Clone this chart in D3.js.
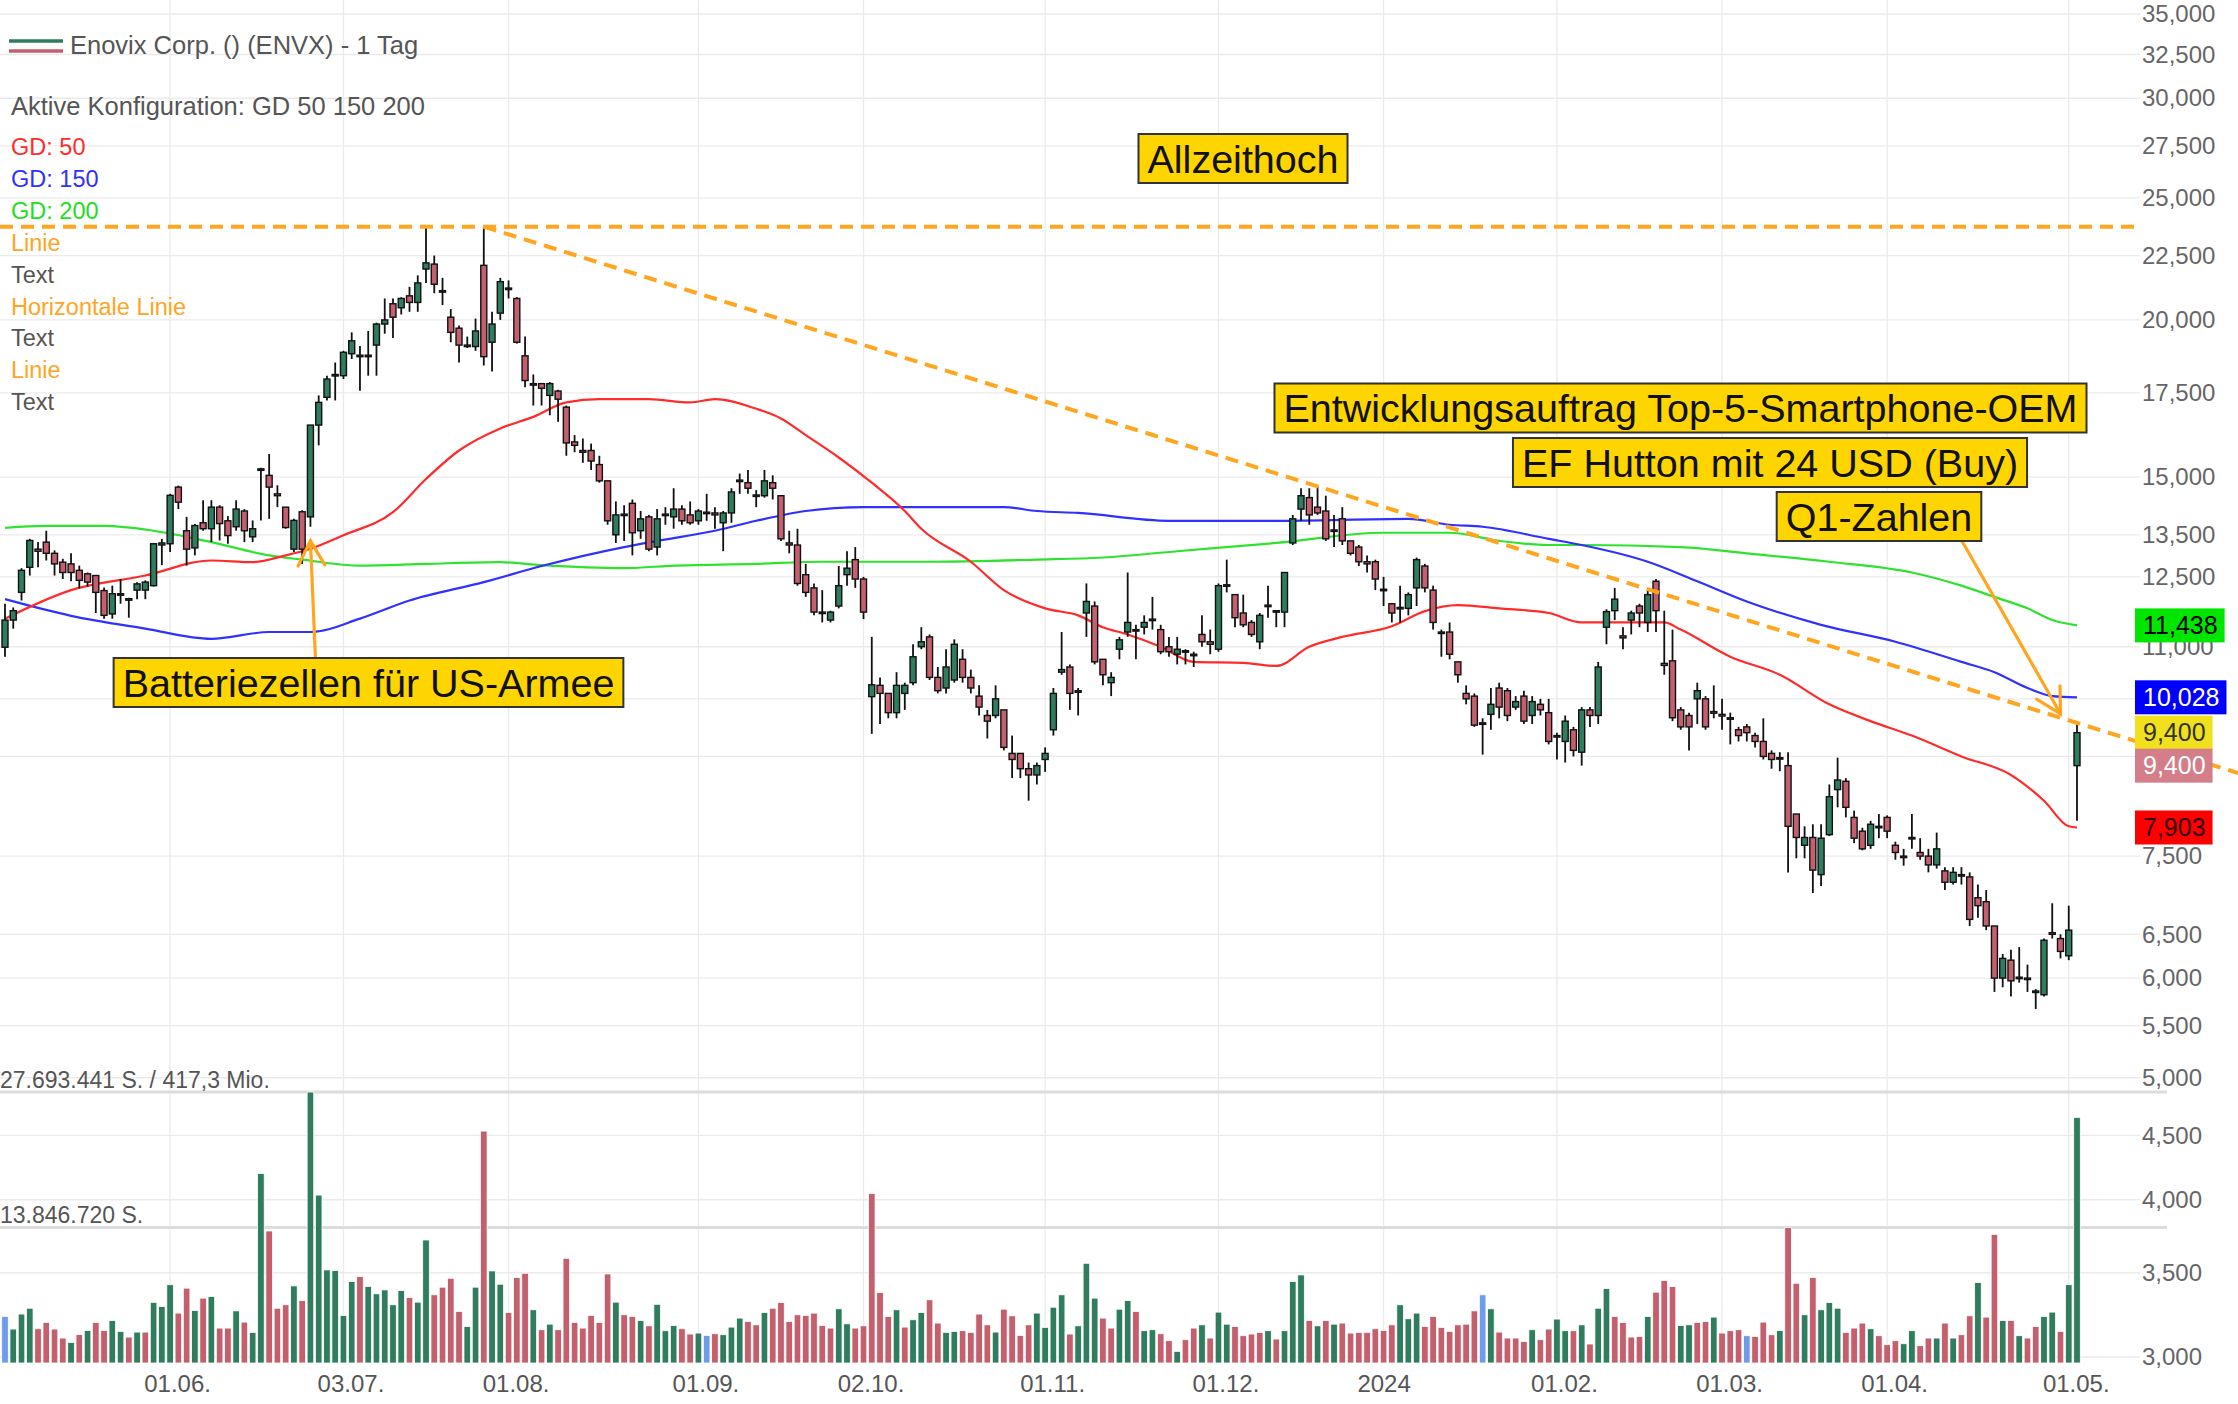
<!DOCTYPE html>
<html><head><meta charset="utf-8">
<script src="https://cdn.jsdelivr.net/npm/d3@7"></script>
<style>html,body{margin:0;padding:0;background:#fff;}svg{display:block;}</style>
</head><body>
<svg id="c" width="2238" height="1404"></svg>
<script>
// ---------------- DATA ----------------
const tickIdx = [20,41,61,84,104,126,147,167,188,208,228,250];
const tickLbl = ["01.06.","03.07.","01.08.","01.09.","02.10.","01.11.","01.12.","2024","01.02.","01.03.","01.04.","01.05."];
const priceTicks = [35,32.5,30,27.5,25,22.5,20,17.5,15,13.5,12.5,11,10,9,7.5,6.5,6,5.5,5,4.5,4,3.5,3];

const open = [10.99,11.55,12.15,12.72,13.15,13.32,13.05,12.84,12.8,12.65,12.57,12.53,12.19,11.68,12.12,12.01,12.2,12.2,12.3,13.25,
13.28,14.73,13.6,13.18,13.8,13.65,14.2,13.85,13.7,14.1,13.45,15.2,15.05,14.55,14.2,13.15,14.08,13.95,16.5,17.36,
18.05,18.06,18.8,18.7,18.75,19.1,19.85,20.6,20.45,20.9,20.65,21.95,22.15,21.1,20.1,19.7,19.1,19.05,22.1,19.2,
20.25,21.2,20.8,18.73,17.8,17.8,17.42,17.56,17.05,16.0,15.75,15.75,15.35,14.9,13.5,14.0,14.3,13.6,13.95,13.2,
14.0,13.95,14.15,14.0,13.85,14.05,14.05,13.8,14.05,14.9,14.85,14.5,14.5,14.85,14.5,13.3,13.25,12.55,12.25,11.72,
11.55,11.85,12.55,12.9,12.45,10.04,10.25,10.1,9.75,10.1,10.3,11.0,11.2,10.4,10.2,10.35,10.75,10.4,10.05,9.7,
9.7,9.8,9.05,9.05,8.8,8.7,8.95,9.45,10.5,10.6,10.15,11.7,11.85,10.75,10.3,10.95,11.3,11.35,11.4,11.55,
11.35,11.0,10.85,10.9,10.85,11.25,11.1,10.95,12.3,12.1,11.7,11.5,11.1,11.85,11.75,11.72,13.3,14.15,14.45,14.2,
14.1,13.6,13.9,13.35,13.2,12.85,12.85,12.2,11.9,11.8,11.8,12.25,12.75,12.2,11.3,11.3,10.7,10.1,10.05,9.55,
9.72,10.2,10.15,9.85,10.05,9.7,9.9,9.75,9.35,9.25,9.45,9.07,9.8,9.7,11.4,11.75,11.22,11.55,11.85,11.5,
12.4,10.67,10.72,9.8,9.7,10.0,10.0,9.77,9.72,9.66,9.45,9.5,9.35,9.25,9.05,8.98,8.85,8.1,7.65,7.76,
7.25,7.8,8.47,8.6,8.05,7.85,7.65,7.9,8.05,7.65,7.5,7.75,7.55,7.5,7.38,7.3,7.15,7.25,7.22,6.95,
6.9,6.6,6.0,6.2,6.0,6.0,5.86,5.82,6.52,6.45,6.25,8.85];
const high = [11.9,11.82,12.7,13.4,13.32,13.6,13.12,12.92,13.05,12.76,12.6,12.53,12.26,12.3,12.45,12.03,12.38,12.42,13.3,13.4,
14.55,14.77,13.95,13.77,14.38,14.38,14.25,13.97,14.38,14.15,13.86,15.26,15.65,14.78,14.2,13.9,14.12,16.5,17.42,18.06,
18.5,18.9,19.55,19.07,19.6,19.9,20.8,20.8,20.85,21.25,21.7,23.72,22.5,21.6,20.4,19.8,19.4,20.05,23.72,20.3,
21.6,21.5,20.85,19.4,18.1,17.8,17.85,17.6,17.1,16.2,16.1,15.95,15.6,14.9,14.35,14.25,14.4,14.1,14.0,14.15,
14.2,14.7,14.25,14.35,14.15,14.55,14.2,14.1,14.7,15.1,15.2,14.65,15.2,15.05,14.5,13.6,13.65,12.8,12.35,12.2,
11.75,12.75,13.1,13.2,12.5,11.2,10.4,10.1,10.5,10.3,11.05,11.4,11.25,10.6,10.95,11.15,10.95,10.55,10.25,9.8,
10.25,9.8,9.35,9.05,8.9,8.9,9.15,10.2,11.3,10.65,10.2,12.35,11.95,10.75,10.5,11.2,12.6,11.45,11.65,12.05,
11.45,11.2,11.2,10.95,10.9,11.65,11.35,12.35,12.9,12.1,12.1,11.55,11.7,12.3,11.75,12.6,14.0,14.7,14.7,14.75,
14.5,14.0,14.2,13.35,13.25,13.0,12.9,12.5,11.9,12.3,12.15,12.95,12.8,12.3,11.35,11.5,10.7,10.25,10.1,9.65,
10.2,10.3,10.2,10.05,10.15,10.05,10.0,10.0,9.4,9.7,9.5,9.85,9.85,10.7,11.78,12.25,11.4,11.75,11.9,12.2,
12.45,11.75,11.35,9.85,9.75,10.3,10.05,10.25,10.0,9.75,9.5,9.55,9.4,9.65,9.1,9.07,9.07,8.1,7.92,7.95,
7.95,8.55,8.98,8.65,8.15,7.9,8.0,8.1,8.08,7.7,7.6,8.1,7.75,7.6,7.83,7.35,7.35,7.35,7.28,7.12,
7.05,6.6,6.27,6.32,6.35,6.15,5.88,6.45,6.88,6.5,6.85,9.55];
const low = [10.8,11.37,11.97,12.53,12.72,12.88,12.53,12.45,12.4,12.24,12.28,11.7,11.58,11.58,11.9,11.6,12.0,12.0,12.28,12.77,
13.08,14.15,12.76,13.0,13.6,13.32,13.36,13.28,13.6,13.32,13.32,13.86,13.9,14.2,13.65,13.08,12.8,13.7,15.9,17.26,
17.26,17.95,18.62,17.57,18.06,18.06,19.5,19.35,20.2,20.3,20.3,21.4,21.0,20.55,19.2,18.5,19.0,18.9,18.4,18.2,
20.0,20.8,19.15,17.68,17.1,17.1,16.8,16.6,15.6,15.7,15.4,15.2,14.85,13.75,13.3,13.35,13.0,13.4,13.1,13.0,
13.75,13.65,13.75,13.75,13.75,13.85,13.65,13.1,13.8,14.55,14.55,14.2,14.45,14.4,13.35,13.05,12.3,12.05,11.65,11.5,
11.5,11.8,12.3,12.25,11.57,9.38,9.55,9.65,9.65,9.8,10.25,10.95,10.35,10.1,10.1,10.3,10.3,10.1,9.7,9.3,
9.65,9.1,8.65,8.65,8.3,8.55,8.75,9.35,10.45,9.8,9.7,11.2,10.65,10.25,10.05,10.75,11.2,10.75,11.25,11.35,
10.85,10.8,10.65,10.65,10.6,11.0,10.85,10.9,12.15,11.4,11.4,11.2,10.95,11.6,11.4,11.4,13.25,13.85,13.75,14.0,
13.35,13.2,13.25,13.0,12.75,12.6,12.2,11.85,11.5,11.5,11.65,11.85,12.15,11.35,10.8,10.75,10.3,9.9,9.5,9.03,
9.45,9.65,9.6,9.8,9.55,9.55,9.7,9.2,8.95,8.9,9.0,8.85,9.5,9.55,11.05,11.55,10.95,11.25,11.4,11.3,
11.3,10.45,9.6,9.45,9.1,9.55,9.45,9.65,9.45,9.2,9.25,9.25,9.15,8.95,8.8,8.76,7.28,7.47,7.47,7.01,
7.1,7.78,8.2,8.05,7.68,7.58,7.6,7.75,7.75,7.45,7.37,7.6,7.45,7.28,7.33,7.05,7.12,7.12,6.6,6.7,
6.55,5.85,5.9,5.8,5.95,5.85,5.67,5.8,6.45,6.22,6.2,8.0];
const close = [11.55,11.75,12.65,13.36,13.1,13.05,12.8,12.6,12.6,12.42,12.38,12.15,11.65,12.12,12.1,11.99,12.34,12.38,13.28,13.3,
14.51,14.33,13.15,13.73,13.65,14.2,13.78,13.48,14.15,13.6,13.65,15.23,14.73,14.5,13.68,13.86,13.15,16.5,17.2,17.95,
18.1,18.85,19.25,18.75,18.7,19.85,20.0,20.1,20.8,20.65,21.4,22.2,21.35,21.05,19.55,19.1,19.05,19.6,18.7,19.85,
21.45,21.15,19.2,17.9,17.75,17.65,17.8,17.3,15.97,15.9,15.7,15.45,14.9,13.85,14.0,14.02,13.55,13.9,13.15,13.9,
14.02,14.15,13.85,13.8,14.1,14.07,14.0,14.05,14.6,14.92,14.7,14.52,14.9,14.7,13.4,13.25,12.35,12.15,11.72,11.7,
11.72,12.3,12.7,12.45,11.72,10.26,10.1,9.75,10.25,10.25,10.8,11.1,10.4,10.15,10.6,11.05,10.4,10.2,9.85,9.6,
10.0,9.15,8.95,8.8,8.7,8.85,9.05,10.1,10.55,10.1,10.12,11.95,10.7,10.45,10.4,11.14,11.5,11.33,11.5,11.57,
10.9,10.9,10.95,10.92,10.83,11.1,11.05,12.3,12.32,11.6,11.45,11.25,11.65,11.87,11.73,12.6,13.9,14.5,14.0,14.05,
13.4,13.62,13.35,13.05,12.85,12.8,12.45,12.22,11.7,11.82,12.1,12.9,12.25,11.5,11.28,10.85,10.45,10.0,9.53,9.57,
9.9,9.85,9.7,9.95,9.6,9.95,9.8,9.25,9.33,9.6,9.1,9.8,9.7,10.6,11.73,12.0,11.18,11.7,11.7,12.1,
11.75,10.63,9.66,9.5,9.5,10.15,9.5,9.74,9.69,9.64,9.35,9.4,9.25,9.0,8.95,8.96,7.92,7.76,7.76,7.31,
7.75,8.36,8.62,8.2,7.75,7.6,7.95,7.92,7.85,7.55,7.49,7.76,7.5,7.38,7.6,7.15,7.28,7.24,6.68,6.85,
6.6,6.0,6.22,5.97,6.01,5.99,5.85,6.43,6.5,6.3,6.55,9.4];

// volume in millions of shares
const volume = [4.76,3.47,5.0,5.6,3.5,4.15,3.47,2.55,2.1,2.9,3.33,4.15,3.33,4.35,3.23,2.65,3.16,3.16,6.2,5.78,
8.0,5.1,7.65,5.37,6.63,6.8,3.57,3.57,5.33,4.18,3.13,19.37,13.49,5.6,5.95,7.88,6.39,27.69,17.16,9.51,
9.45,4.86,8.32,8.83,7.81,7.07,7.47,5.95,7.41,6.69,6.22,12.57,6.97,7.75,8.66,5.27,3.74,7.75,23.7,9.41,
8.05,5.16,8.73,9.17,5.44,3.4,3.97,3.4,10.7,4.15,3.57,4.86,4.15,9.1,6.22,4.93,4.76,4.35,3.8,6.0,
3.3,3.84,3.5,2.96,3.06,2.82,2.99,2.89,3.67,4.59,4.25,3.9,5.16,5.6,6.18,4.25,4.93,4.86,5.1,3.84,
3.57,5.54,4.0,3.57,3.8,17.33,7.2,4.76,5.44,3.67,4.42,5.16,6.46,4.08,3.13,3.23,3.3,3.13,5.0,3.9,
3.16,5.5,4.82,2.82,3.9,5.1,3.64,5.7,6.97,2.96,3.8,10.19,6.63,4.59,3.57,5.5,
6.39,5.27,3.3,3.4,2.99,2.28,1.19,2.38,3.57,3.9,2.55,5.2,3.97,3.74,2.79,2.96,3.13,3.3,2.45,3.3,
8.32,9.0,4.35,3.8,4.35,3.97,4.08,3.06,3.13,3.13,3.5,3.33,3.9,5.95,4.52,5.1,3.74,4.76,3.64,3.23,
3.9,3.97,5.33,6.97,5.54,3.16,2.55,2.55,2.21,3.4,2.38,3.47,4.49,3.3,3.3,3.9,1.94,5.6,7.61,4.76,
4.15,2.65,2.72,4.76,7.24,8.43,7.81,3.84,3.9,4.15,4.25,4.69,3.06,3.3,3.4,2.79,2.72,4.18,2.89,3.33,
13.86,8.15,4.93,8.73,5.44,6.18,5.6,3.13,3.57,4.08,3.5,2.79,1.87,2.28,1.97,3.3,1.77,2.55,2.55,4.08,
2.55,2.89,4.82,8.22,4.69,13.15,4.35,4.35,2.79,2.55,3.74,4.76,5.2,3.23,8.0,25.1];
// bar colour category: g = up, r = down, b = unchanged
const volColor = ["bgggrrrrgr","grrggrgrgg","grrgrgrrgr","ggrrrgrggg","gggrgggggr","ggrrrrggrg","grrrgrgrrr",
  "rrrrgrrgrg","ggrrgbrggg","rrgrrrrrrr","rggrrrrrgr","ggrrggrrrr","grrrrggggr","gggrrg",
  "grggrrgrrg","rggrrrrgrg","ggrgrgrrrr","rrrgggrrrr","rrrbgrrrrg","rrggrgrggr","rrrgrrrggr",
  "rgrrrbrrrg","rrgrgggrrr","grrrggrrgr","grrgrrgrgr","rggrgg"].join("").split("");

const volMax = 27693441;

// moving averages: [candle index, value]
const gd50 = [[0,11.58],[8,12.2],[17,12.53],[25,12.88],[30,12.84],[34,13.0],[37,13.16],[41,13.49],[47,14.07],[51,14.95],[55,15.75],[60,16.4],[64,16.75],[68,17.2],[72,17.3],[78,17.3],[83,17.2],[86,17.3],[91,17.0],[94,16.7],[97,16.2],[101,15.55],[105,14.85],[109,14.1],[111,13.65],[117,12.85],[121,12.2],[126,11.8],[130,11.65],[133,11.4],[136,11.25],[140,11.0],[144,10.7],[150,10.68],[154,10.62],[158,11.0],[162,11.2],[168,11.42],[172,11.74],[176,11.87],[181,11.8],[187,11.7],[191,11.5],[201,11.5],[203,11.35],[209,10.8],[215,10.45],[221,9.9],[226,9.6],[231,9.35],[237,9.0],[243,8.7],[247,8.3],[250,7.92],[251,7.903]];
const gd150 = [[0,12.0],[8,11.64],[17,11.37],[25,11.16],[32,11.3],[37,11.3],[43,11.58],[49,11.97],[58,12.38],[65,12.75],[75,13.2],[79,13.35],[86,13.6],[91,13.85],[97,14.1],[104,14.2],[121,14.2],[125,14.1],[130,14.05],[141,13.85],[154,13.85],[170,13.9],[175,13.75],[179,13.7],[187,13.4],[191,13.25],[199,12.85],[205,12.4],[211,11.95],[220,11.45],[229,11.1],[237,10.7],[241,10.5],[245,10.2],[248,10.05],[251,10.028]];
const gd200 = [[0,13.67],[5,13.72],[12,13.72],[18,13.6],[25,13.32],[32,13.0],[36,12.9],[43,12.76],[51,12.8],[60,12.84],[65,12.77],[75,12.7],[80,12.75],[91,12.8],[99,12.85],[112,12.85],[125,12.9],[133,12.95],[142,13.1],[154,13.3],[167,13.55],[175,13.55],[181,13.35],[187,13.25],[191,13.25],[203,13.2],[211,13.05],[221,12.85],[231,12.6],[237,12.3],[241,12.05],[245,11.8],[248,11.55],[251,11.438]];

// drawn lines: all-time-high horizontal and falling trend line (two anchor points)
const athPrice = 23.72;
const trendPts = [[58,23.72],[251,9.57]];
// right-hand value tags
const tagValues = [11.438, 10.028, 9.400, 9.400, 7.903];
const tagStyles = [["#00e600","#000",0],["#0000ff","#fff",0],["#f0e01e","#333",0],["#d37e89","#fff",33],["#ff0000","#300",0]];

// ---------------- CHART ----------------
const FONT = "'Liberation Sans', Arial, Helvetica, sans-serif";
const GREEN = "#2f7d5e", RED = "#c4606d", BLUE = "#6d9de8";
const svg = d3.select("#c").attr("font-family", FONT);
const x = d3.scaleLinear().domain([0, 251]).range([5, 2077]);
const y = d3.scaleLog().domain([3, 35]).range([1357, 14]);
const yv = d3.scaleLinear().domain([0, volMax]).range([1363, 1092]);

// grid
const grid = svg.append("g");
grid.selectAll("line.h").data(priceTicks).join("line")
  .attr("x1", 0).attr("x2", 2140).attr("y1", d => y(d)).attr("y2", d => y(d))
  .attr("stroke", "#ebebeb").attr("stroke-width", 1.3);
grid.selectAll("line.v").data(tickIdx).join("line")
  .attr("x1", d => x(d)).attr("x2", d => x(d)).attr("y1", 0).attr("y2", 1363)
  .attr("stroke", "#ebebeb").attr("stroke-width", 1.3);

// volume reference lines
svg.append("g").selectAll("line").data([volMax, volMax / 2]).join("line")
  .attr("x1", 0).attr("x2", 2167).attr("y1", d => yv(d)).attr("y2", d => yv(d))
  .attr("stroke", "#dcdcdc").attr("stroke-width", 3);

// volume bars
const vcol = {g: GREEN, r: RED, b: BLUE};
svg.append("g").selectAll("rect").data(volume).join("rect")
  .attr("x", (d, i) => x(i) - 3.3).attr("width", 6.6)
  .attr("y", d => yv(d * 1e6)).attr("height", d => yv(0) - yv(d * 1e6))
  .attr("fill", (d, i) => vcol[volColor[i]] || GREEN)
  .attr("stroke", "#fff").attr("stroke-width", 0.8);

svg.append("text").attr("x", 0).attr("y", 1088).attr("font-size", 23).attr("fill", "#555")
  .text("27.693.441 S. / 417,3 Mio.");
svg.append("text").attr("x", 0).attr("y", 1223).attr("font-size", 23).attr("fill", "#555")
  .text("13.846.720 S.");

// moving averages
const line = d3.line().x(d => x(d[0])).y(d => y(d[1])).curve(d3.curveMonotoneX);
[[gd200, "#2fe22f"], [gd150, "#3030ff"], [gd50, "#ff2b2b"]].forEach(([s, c]) => {
  svg.append("path").datum(s).attr("d", line).attr("fill", "none")
    .attr("stroke", c).attr("stroke-width", 2.2);
});

// candles
const cg = svg.append("g");
const idx = d3.range(open.length);
cg.selectAll("line").data(idx).join("line")
  .attr("x1", i => x(i)).attr("x2", i => x(i))
  .attr("y1", i => y(high[i])).attr("y2", i => y(low[i]))
  .attr("stroke", "#111").attr("stroke-width", 1.8);
cg.selectAll("rect").data(idx).join("rect")
  .attr("x", i => x(i) - 3).attr("width", 6)
  .attr("y", i => y(Math.max(open[i], close[i])))
  .attr("height", i => Math.max(1.5, y(Math.min(open[i], close[i])) - y(Math.max(open[i], close[i]))))
  .attr("fill", i => close[i] >= open[i] ? GREEN : RED)
  .attr("stroke", "#111").attr("stroke-width", 1.4);

// orange drawn lines
const ORANGE = "#ffa51f";
svg.append("line").attr("x1", 0).attr("x2", 2140).attr("y1", y(athPrice)).attr("y2", y(athPrice))
  .attr("stroke", ORANGE).attr("stroke-width", 4).attr("stroke-dasharray", "13,8");
{
  const p1 = [x(trendPts[0][0]), y(trendPts[0][1])], p2 = [x(trendPts[1][0]), y(trendPts[1][1])];
  const k = (p2[1] - p1[1]) / (p2[0] - p1[0]);
  svg.append("line").attr("x1", p1[0]).attr("y1", p1[1]).attr("x2", 2238).attr("y2", p1[1] + k * (2238 - p1[0]))
    .attr("stroke", ORANGE).attr("stroke-width", 4).attr("stroke-dasharray", "13,8");
}

// arrows
function arrow(from, to) {
  const g = svg.append("g").attr("stroke", ORANGE).attr("stroke-width", 3.2).attr("fill", "none")
    .attr("stroke-linecap", "round");
  g.append("line").attr("x1", from[0]).attr("y1", from[1]).attr("x2", to[0]).attr("y2", to[1]);
  const a = Math.atan2(from[1] - to[1], from[0] - to[0]), L = 28, s = 0.5;
  g.append("path").attr("d",
    `M${to[0] + L * Math.cos(a - s)},${to[1] + L * Math.sin(a - s)}L${to[0]},${to[1]}L${to[0] + L * Math.cos(a + s)},${to[1] + L * Math.sin(a + s)}`);
}
arrow([x(37) + 5, 658], [x(37), y(13.35)]);
arrow([1962, 541], [x(249), y(9.73)]);

// annotation boxes
function note(txt, cx, cy) {
  const g = svg.append("g");
  const t = g.append("text").attr("x", cx).attr("y", cy + 14).attr("text-anchor", "middle")
    .attr("font-size", 39.5).attr("fill", "#111").text(txt);
  const w = t.node().getComputedTextLength() + 18;
  g.insert("rect", "text").attr("x", cx - w / 2).attr("y", cy - 24.5).attr("width", w).attr("height", 49)
    .attr("fill", "#ffd500").attr("stroke", "#333").attr("stroke-width", 2);
}
note("Allzeithoch", 1243, 158.5);
note("Entwicklungsauftrag Top-5-Smartphone-OEM", 1680.5, 408);
note("EF Hutton mit 24 USD (Buy)", 1770, 462.5);
note("Q1-Zahlen", 1879, 516.5);
note("Batteriezellen für US-Armee", 368.5, 682.5);

// right axis
const fmt = d => d.toFixed(3).replace(".", ",");
const axR = svg.append("g").attr("transform", "translate(2142,0)")
  .call(d3.axisRight(y).tickValues(priceTicks).tickSize(0).tickPadding(0).tickFormat(fmt));
axR.select(".domain").remove();
axR.attr("font-family", FONT).attr("font-size", 24);
axR.selectAll("text").attr("fill", "#666");

// bottom axis
const axB = svg.append("g").attr("transform", "translate(0,1375)")
  .call(d3.axisBottom(x).tickValues(tickIdx).tickSize(0).tickPadding(0).tickFormat((d, i) => tickLbl[i]));
axB.select(".domain").remove();
axB.attr("font-family", FONT).attr("font-size", 24);
axB.selectAll("text").attr("fill", "#555").attr("dx", (d, i) => tickLbl[i].endsWith(".") ? 7 : 0);

// value tags
tagValues.forEach((v, k) => {
  const [bg, fg, off] = tagStyles[k];
  const cy = y(v) + off;
  const g = svg.append("g");
  const t = g.append("text").attr("x", 2143).attr("y", cy + 8.6).attr("font-size", 25).attr("fill", fg).text(fmt(v));
  const w = t.node().getComputedTextLength() + 15;
  g.insert("rect", "text").attr("x", 2135).attr("y", cy - 17).attr("width", w).attr("height", 34).attr("fill", bg);
});

// legend
svg.append("line").attr("x1", 9).attr("x2", 63).attr("y1", 41).attr("y2", 41).attr("stroke", GREEN).attr("stroke-width", 3.5);
svg.append("line").attr("x1", 9).attr("x2", 63).attr("y1", 51).attr("y2", 51).attr("stroke", RED).attr("stroke-width", 3.5);
svg.append("text").attr("x", 70).attr("y", 54).attr("font-size", 25.5).attr("fill", "#555").text("Enovix Corp. () (ENVX) - 1 Tag");
svg.append("text").attr("x", 11).attr("y", 115).attr("font-size", 25.5).attr("fill", "#555").text("Aktive Konfiguration: GD 50 150 200");
const legendItems = [["GD: 50", "#ff2b2b"], ["GD: 150", "#3030ff"], ["GD: 200", "#22dd22"], ["Linie", ORANGE], ["Text", "#555"],
  ["Horizontale Linie", ORANGE], ["Text", "#555"], ["Linie", ORANGE], ["Text", "#555"]];
svg.append("g").selectAll("text").data(legendItems).join("text")
  .attr("x", 11).attr("y", (d, i) => 155 + i * 31.9).attr("font-size", 23.5)
  .attr("fill", d => d[1]).text(d => d[0]);
</script>
</body></html>
